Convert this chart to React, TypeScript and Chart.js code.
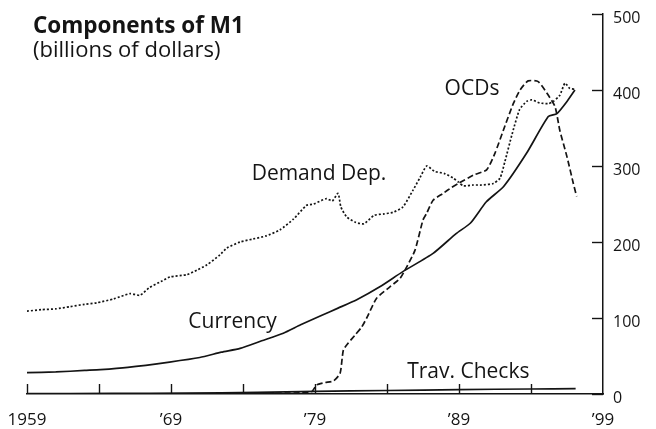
import React, { useEffect, useRef } from "react";
import { Chart, registerables } from "chart.js";

Chart.register(...registerables);

// ---- Data ----
const demandYears = [1959.0, 1960.0, 1961.0, 1962.0, 1963.0, 1963.84, 1965.0, 1966.15, 1966.85, 1967.5, 1968.3, 1968.93, 1970.09, 1970.8, 1971.5, 1972.4, 1972.87, 1973.8, 1974.7, 1975.6, 1976.57, 1977.5, 1978.4, 1978.9, 1979.8, 1980.2, 1980.6, 1980.8, 1981.2, 1981.8, 1982.4, 1983.1, 1983.8, 1984.4, 1985.1, 1985.8, 1986.3, 1986.76, 1987.3, 1988.0, 1988.6, 1988.95, 1989.3, 1990.0, 1990.58, 1991.38, 1991.85, 1992.19, 1992.66, 1993.2, 1993.7, 1994.05, 1994.6, 1995.2, 1995.55, 1996.0, 1996.36, 1996.7, 1997.05];
const demandValues = [109, 111, 112, 115, 118, 120, 125, 132, 130, 140, 148, 154, 157, 163, 170, 183, 192, 200, 204, 208, 216, 230, 248, 250, 257, 254, 264, 246, 233, 226, 224, 235, 237, 239, 246, 268, 285, 300, 293, 290, 284, 279, 274, 275, 275, 277, 284, 306, 340, 374, 385, 387, 383, 382, 385, 393, 409, 402, 401];

const currencyYears = [1959.0, 1961.0, 1963.0, 1964.1, 1966.0, 1968.9, 1971.0, 1972.5, 1973.8, 1975.3, 1976.8, 1978.0, 1979.4, 1980.6, 1981.9, 1983.5, 1985.1, 1987.2, 1988.8, 1989.8, 1990.9, 1992.1, 1993.7, 1995.2, 1995.8, 1996.5, 1997.05];
const currencyValues = [28, 29, 31, 32, 35, 42, 48, 55, 60, 70, 80, 91, 103, 113, 124, 141, 161, 185, 211, 225, 253, 273, 317, 365, 369, 385, 400];

const ocdYears = [1970.0, 1974.0, 1978.0, 1978.77, 1979.12, 1979.7, 1980.27, 1980.74, 1980.97, 1981.31, 1981.8, 1982.24, 1982.59, 1983.28, 1984.2, 1984.9, 1985.25, 1985.94, 1986.5, 1986.76, 1987.2, 1987.9, 1988.5, 1988.95, 1990.0, 1990.92, 1991.5, 1992.08, 1992.77, 1993.24, 1993.8, 1994.5, 1995.1, 1995.67, 1996.0, 1996.5, 1996.94, 1997.17];
const ocdValues = [0, 0.5, 1.5, 3, 12, 15, 17, 27, 58, 67, 78, 88, 100, 126, 141, 152, 163, 189, 229, 238, 255, 264, 272, 277, 288, 295, 317, 347, 382, 400, 412, 411, 396, 378, 347, 312, 277, 260];

const travYears = [1959, 1965, 1970, 1975, 1979, 1984, 1989, 1994, 1997.1];
const travValues = [0.4, 0.7, 1.2, 2.2, 3.5, 4.6, 5.8, 6.6, 7.0];

const xLabelYears = [1959, 1969, 1979, 1989, 1999];
const xTickMarkYears = [1959, 1964, 1969, 1974, 1979, 1984, 1989, 1994];
const yTickValues = [0, 100, 200, 300, 400, 500];

const seriesLabelTexts = ["Demand Dep.", "OCDs", "Currency", "Trav. Checks"];
const seriesLabelYears = [1974.6, 1988.0, 1970.2, 1985.4];
const seriesLabelValues = [282, 393, 87, 21];

const titleText = "Components of M1";
const subtitleText = "(billions of dollars)";

const FONT = '"Open Sans", "Lato", sans-serif';
const INK = "#141414";

const toPoints = (xs: number[], ys: number[]) => xs.map((x, i) => ({ x, y: ys[i] }));

const annotationPlugin = {
  id: "m1Annotations",
  afterDraw(chart: any) {
    const { ctx, chartArea, scales } = chart;
    const xs = scales.x;
    const ys = scales.y;
    ctx.save();
    ctx.strokeStyle = INK;
    ctx.lineWidth = 1.4;
    // inner tick marks on the bottom axis
    for (const t of xTickMarkYears) {
      const px = Math.round(xs.getPixelForValue(t)) + 0.5;
      ctx.beginPath();
      ctx.moveTo(px, chartArea.bottom);
      ctx.lineTo(px, chartArea.bottom - 10);
      ctx.stroke();
    }
    // tick marks on the right axis (pointing left)
    for (const v of yTickValues) {
      const py = Math.round(ys.getPixelForValue(v)) + 0.5;
      ctx.beginPath();
      ctx.moveTo(chartArea.right - 11, py);
      ctx.lineTo(chartArea.right, py);
      ctx.stroke();
    }
    // series labels
    ctx.fillStyle = INK;
    ctx.textAlign = "left";
    ctx.textBaseline = "alphabetic";
    ctx.font = `21px ${FONT}`;
    seriesLabelTexts.forEach((txt, i) => {
      ctx.fillText(txt, xs.getPixelForValue(seriesLabelYears[i]), ys.getPixelForValue(seriesLabelValues[i]));
    });
    // title
    ctx.font = `bold 22.5px ${FONT}`;
    ctx.fillText(titleText, 33, 33);
    ctx.font = `22px ${FONT}`;
    ctx.fillText(subtitleText, 33, 57);
    ctx.restore();
  },
};

export default function App() {
  const canvasRef = useRef<HTMLCanvasElement | null>(null);

  useEffect(() => {
    const canvas = canvasRef.current;
    if (!canvas) return;
    const lineBase = {
      pointRadius: 0,
      borderColor: INK,
      borderWidth: 1.7,
      fill: false,
      tension: 0.2,
      borderJoinStyle: "round" as const,
      borderCapStyle: "butt" as const,
    };
    const chart = new Chart(canvas, {
      type: "line",
      data: {
        datasets: [
          { ...lineBase, label: "Demand Dep.", data: toPoints(demandYears, demandValues), borderDash: [2, 2] },
          { ...lineBase, label: "Currency", data: toPoints(currencyYears, currencyValues) },
          { ...lineBase, label: "OCDs", data: toPoints(ocdYears, ocdValues), borderDash: [6, 3] },
          { ...lineBase, label: "Trav. Checks", data: toPoints(travYears, travValues) },
        ],
      },
      options: {
        animation: false,
        responsive: false,
        devicePixelRatio: 1,
        layout: { padding: { left: 27, top: 14, right: 0, bottom: 0 } },
        plugins: { legend: { display: false }, tooltip: { enabled: false }, title: { display: false } },
        scales: {
          x: {
            type: "linear",
            min: 1959,
            max: 1999,
            afterBuildTicks: (scale: any) => {
              scale.ticks = xLabelYears.map((v) => ({ value: v }));
            },
            afterFit: (scale: any) => {
              scale.height = 35;
              scale.paddingLeft = 0;
              scale.paddingRight = 0;
            },
            grid: { display: false, drawTicks: false },
            border: { display: true, color: INK, width: 1.5 },
            ticks: {
              color: INK,
              padding: 16,
              maxRotation: 0,
              autoSkip: false,
              font: { family: FONT, size: 17 },
              callback: (v: any) => (Number(v) === 1959 ? "1959" : "\u2019" + String(v).slice(2)),
            },
          },
          y: {
            type: "linear",
            position: "right",
            min: 0,
            max: 500,
            afterBuildTicks: (scale: any) => {
              scale.ticks = yTickValues.map((v) => ({ value: v }));
            },
            afterFit: (scale: any) => {
              scale.width = 53;
              scale.paddingTop = 0;
              scale.paddingBottom = 0;
            },
            grid: { display: false, drawTicks: false },
            border: { display: true, color: INK, width: 1.5 },
            ticks: {
              color: INK,
              padding: 10,
              labelOffset: 4,
              font: { family: FONT, size: 16 },
            },
          },
        },
      },
      plugins: [annotationPlugin],
    });
    return () => chart.destroy();
  }, []);

  return (
    <div style={{ position: "absolute", left: 0, top: 0, width: 656, height: 429, background: "#fff" }}>
      <canvas ref={canvasRef} width={656} height={429} style={{ display: "block" }} />
    </div>
  );
}
